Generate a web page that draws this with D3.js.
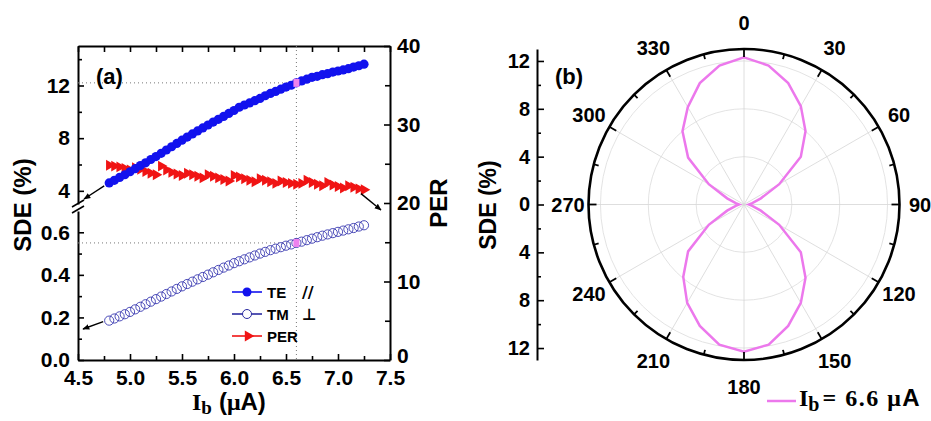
<!DOCTYPE html>
<html>
<head>
<meta charset="utf-8">
<script src="https://cdn.jsdelivr.net/npm/d3@7"></script>
<style>
  body { margin: 0; background: #fff; }
  text { font-family: Arial, "Liberation Sans", sans-serif; font-weight: bold; fill: #000; }
  .serif { font-family: "Times New Roman", "Liberation Serif", serif; }
</style>
</head>
<body>
<svg width="931" height="421"></svg>
<script>
// ---- panel (a) data ----
const current = [4.80,4.85,4.90,4.95,5.00,5.05,5.10,5.15,5.20,5.25,
                 5.30,5.35,5.40,5.45,5.50,5.55,5.60,5.65,5.70,5.75,
                 5.80,5.85,5.90,5.95,6.00,6.05,6.10,6.15,6.20,6.25,
                 6.30,6.35,6.40,6.45,6.50,6.55,6.60,6.65,6.70,6.75,
                 6.80,6.85,6.90,6.95,7.00,7.05,7.10,7.15,7.20,7.25]
const sdeTE = [4.60,4.80,5.02,5.22,5.45,5.68,5.92,6.13,6.38,6.60,
               6.85,7.10,7.35,7.60,7.85,8.08,8.32,8.55,8.78,9.00,
               9.22,9.43,9.65,9.88,10.10,10.35,10.52,10.68,10.85,11.02,
               11.22,11.40,11.55,11.72,11.88,12.02,12.20,12.35,12.48,12.62,
               12.70,12.82,12.90,13.02,13.10,13.18,13.28,13.40,13.50,13.62]
const sdeTM = [0.185,0.195,0.205,0.215,0.226,0.238,0.250,0.262,0.274,0.286,
               0.298,0.310,0.322,0.334,0.346,0.357,0.368,0.379,0.390,0.401,
               0.412,0.423,0.434,0.444,0.455,0.464,0.473,0.482,0.491,0.500,
               0.508,0.516,0.523,0.530,0.537,0.543,0.550,0.556,0.563,0.570,
               0.577,0.584,0.590,0.596,0.602,0.608,0.614,0.620,0.627,0.633]
const perValues = [24.8,24.7,24.6,24.4,24.2,24.5,24.3,24.0,23.8,23.6,
                   24.7,24.2,23.9,23.7,23.5,23.8,23.6,23.4,23.2,23.6,
                   23.4,23.2,23.0,22.8,23.5,23.3,23.1,22.9,22.7,23.1,
                   22.9,22.7,22.5,22.8,22.6,22.5,22.4,22.5,22.9,22.6,
                   22.4,22.2,22.6,22.3,22.1,21.9,22.2,22.0,21.8,21.7]
const markedCurrent = 6.6
const xTicks = [4.5,5.0,5.5,6.0,6.5,7.0,7.5]
const xMinor = [4.75,5.25,5.75,6.25,6.75,7.25]
const hiTicks = [4,8,12], hiMinor = [6,10,14]
const loTicks = [0.0,0.2,0.4,0.6], loMinor = [0.1,0.3,0.5]
const perTicks = [0,10,20,30,40], perMinor = [5,15,25,35]

// ---- panel (b) data ----
const polarAngles = [0,10,20,30,40,50,60,70,80,90,100,110,120,130,140,150,160,170,
                     180,190,200,210,220,230,240,250,260,270,280,290,300,310,320,330,340,350]
const polarSDE = [12.3,11.8,10.8,9.5,8.0,6.2,3.4,1.5,0.7,0.4,0.7,1.5,3.4,6.2,8.0,9.5,10.8,11.9,
                  12.3,11.9,10.8,9.5,7.9,6.1,3.4,1.5,0.7,0.4,0.7,1.5,3.4,6.1,8.0,9.4,10.8,11.8]
const angleLabels = [0,30,60,90,120,150,180,210,240,270,300,330]
const radialTicks = [0,4,8,12], radialMinor = [2,6,10]

const svg = d3.select('svg')

// ================= panel (a) =================
const x = d3.scaleLinear().domain([4.5,7.5]).range([78,390])
const yHi = d3.scaleLinear().domain([3,15]).range([204,46])
const yLo = d3.scaleLinear().domain([0,0.7]).range([360,211])
const yPer = d3.scaleLinear().domain([0,40]).range([360,46])

const styleAxis = g => {
  g.selectAll('.domain').attr('stroke','#000').attr('stroke-width',2)
  g.selectAll('.tick line').attr('stroke','#000').attr('stroke-width',1.6)
  g.selectAll('.tick text').attr('font-size',21).attr('fill','#000')
}

// bottom + top
svg.append('g').attr('transform','translate(0,360)')
  .call(d3.axisBottom(x).tickValues(xTicks).tickSizeInner(-6).tickSizeOuter(0).tickPadding(10).tickFormat(d3.format('.1f')))
  .call(styleAxis)
svg.append('g').attr('transform','translate(0,360)')
  .call(d3.axisBottom(x).tickValues(xMinor).tickSizeInner(-4).tickSizeOuter(0).tickFormat(''))
  .call(styleAxis).select('.domain').remove()
svg.append('g').attr('transform','translate(0,46)')
  .call(d3.axisTop(x).tickValues(xTicks.concat(xMinor)).tickSizeInner(-6).tickSizeOuter(0).tickFormat(''))
  .call(styleAxis)

// left broken axis
svg.append('g').attr('transform','translate(78,0)')
  .call(d3.axisLeft(yHi).tickValues(hiTicks).tickSizeInner(-6).tickSizeOuter(0).tickPadding(8))
  .call(styleAxis)
svg.append('g').attr('transform','translate(78,0)')
  .call(d3.axisLeft(yHi).tickValues(hiMinor).tickSizeInner(-4).tickSizeOuter(0).tickFormat(''))
  .call(styleAxis).select('.domain').remove()
svg.append('g').attr('transform','translate(78,0)')
  .call(d3.axisLeft(yLo).tickValues(loTicks).tickSizeInner(-6).tickSizeOuter(0).tickPadding(8).tickFormat(d3.format('.1f')))
  .call(styleAxis)
svg.append('g').attr('transform','translate(78,0)')
  .call(d3.axisLeft(yLo).tickValues(loMinor).tickSizeInner(-4).tickSizeOuter(0).tickFormat(''))
  .call(styleAxis).select('.domain').remove()
// break marks
const brk = svg.append('g').attr('stroke','#000').attr('stroke-width',1.6)
brk.append('line').attr('x1',72).attr('y1',207).attr('x2',84).attr('y2',200)
brk.append('line').attr('x1',72).attr('y1',213).attr('x2',84).attr('y2',206)

// right PER axis
svg.append('g').attr('transform','translate(390,0)')
  .call(d3.axisRight(yPer).tickValues(perTicks).tickSizeInner(-6).tickSizeOuter(0).tickPadding(7))
  .call(styleAxis)
  .call(g => g.selectAll('.tick text').filter(d => d == 0).attr('dy','0.1em'))
svg.append('g').attr('transform','translate(390,0)')
  .call(d3.axisRight(yPer).tickValues(perMinor).tickSizeInner(-5).tickSizeOuter(0).tickFormat(''))
  .call(styleAxis).select('.domain').remove()

// dotted guide lines at the marked current
const iMark = current.indexOf(markedCurrent)
const guide = svg.append('g').attr('stroke','#777').attr('stroke-width',1).attr('stroke-dasharray','1,3')
guide.append('line').attr('x1',x(markedCurrent)).attr('x2',x(markedCurrent)).attr('y1',46).attr('y2',360)
guide.append('line').attr('x1',78).attr('x2',x(markedCurrent)).attr('y1',yHi(sdeTE[iMark])).attr('y2',yHi(sdeTE[iMark]))
guide.append('line').attr('x1',78).attr('x2',x(markedCurrent)).attr('y1',yLo(sdeTM[iMark])).attr('y2',yLo(sdeTM[iMark]))

// series
const tri = d3.symbol().type(d3.symbolTriangle).size(52)
svg.append('g').selectAll('path').data(current).enter().append('path')
  .attr('d',tri)
  .attr('transform',(d,i) => `translate(${x(d)},${yPer(perValues[i])}) rotate(90)`)
  .attr('fill','#f01414')
svg.append('g').selectAll('circle').data(current).enter().append('circle')
  .attr('cx',d => x(d)).attr('cy',(d,i) => yHi(sdeTE[i])).attr('r',4.6)
  .attr('fill','#1212ee')
svg.append('g').selectAll('circle').data(current).enter().append('circle')
  .attr('cx',d => x(d)).attr('cy',(d,i) => yLo(sdeTM[i])).attr('r',4.6)
  .attr('fill','none').attr('stroke','#3838b0').attr('stroke-width',0.9)
// pink highlight of the polar-plot point
svg.append('rect').attr('x',x(markedCurrent)-3).attr('y',yHi(sdeTE[iMark])-4).attr('width',6).attr('height',8).attr('fill','#ee82ee')
svg.append('rect').attr('x',x(markedCurrent)-3).attr('y',yLo(sdeTM[iMark])-4).attr('width',6).attr('height',8).attr('fill','#ee82ee')

// arrows
svg.append('defs').append('marker').attr('id','ah')
  .attr('viewBox','0 0 10 10').attr('refX',9).attr('refY',5)
  .attr('markerWidth',7).attr('markerHeight',7).attr('orient','auto-start-reverse')
  .attr('markerUnits','userSpaceOnUse')
  .append('path').attr('d','M0,1L10,5L0,9z').attr('fill','#000')
const arrow = (x1,y1,x2,y2) => svg.append('line')
  .attr('x1',x1).attr('y1',y1).attr('x2',x2).attr('y2',y2)
  .attr('stroke','#000').attr('stroke-width',1.4).attr('marker-end','url(#ah)')
arrow(x(current[0])-5,yHi(sdeTE[0])+3,84,199)
arrow(x(current[0])-6,yLo(sdeTM[0])+1,83,329)
arrow(x(current[49])-3,yPer(perValues[49])+4,381,210)

// legend
const legend = [
  {label:'TE', y:292, color:'#1212ee', kind:'fill', extra:'//'},
  {label:'TM', y:314, color:'#2a2aa0', kind:'open', extra:'\u22A5'},
  {label:'PER', y:336, color:'#f01414', kind:'tri'}
]
const lg = svg.append('g')
legend.forEach(d => {
  lg.append('line').attr('x1',232).attr('x2',262).attr('y1',d.y).attr('y2',d.y)
    .attr('stroke',d.color).attr('stroke-width',1.6)
  if(d.kind=='fill') lg.append('circle').attr('cx',247).attr('cy',d.y).attr('r',4.5).attr('fill',d.color)
  if(d.kind=='open') lg.append('circle').attr('cx',247).attr('cy',d.y).attr('r',4.5).attr('fill','#fff').attr('stroke',d.color).attr('stroke-width',1)
  if(d.kind=='tri') lg.append('path').attr('d',tri).attr('transform',`translate(248,${d.y}) rotate(90)`).attr('fill',d.color)
  lg.append('text').attr('x',267).attr('y',d.y+5.5).attr('font-size',15).text(d.label)
  if(d.extra) lg.append('text').attr('x',302).attr('y',d.y+6).attr('font-size',16)
    .style('font-family','"DejaVu Sans",sans-serif').text(d.extra)
})

// titles
svg.append('text').attr('x',96).attr('y',84).attr('font-size',22).text('(a)')
svg.append('text').attr('transform','translate(31,205) rotate(-90)').attr('text-anchor','middle')
  .attr('font-size',24).text('SDE (%)')
svg.append('text').attr('transform','translate(447,203) rotate(-90)').attr('text-anchor','middle')
  .attr('font-size',24).text('PER')
const xl = svg.append('text').attr('x',192).attr('y',410).attr('font-size',24)
xl.append('tspan').attr('class','serif').text('I')
xl.append('tspan').attr('class','serif').attr('dy',4).attr('font-size',19).text('b')
xl.append('tspan').attr('dy',-4).attr('dx',7).text('(')
xl.append('tspan').attr('class','serif').text('\u03BC')
xl.append('tspan').text('A)')

// ================= panel (b) =================
const cx = 744, cy = 204.5
const r = d3.scaleLinear().domain([0,13]).range([0,155.5])
const polar = svg.append('g').attr('transform',`translate(${cx},${cy})`)

// grid
polar.selectAll('.gc').data(radialTicks.slice(1)).enter().append('circle')
  .attr('r',d => r(d)).attr('fill','none').attr('stroke','#dcdcdc').attr('stroke-width',0.8)
polar.selectAll('.sp').data(angleLabels).enter().append('line')
  .attr('x1',0).attr('y1',0)
  .attr('x2',d => r(13)*Math.sin(d*Math.PI/180)).attr('y2',d => -r(13)*Math.cos(d*Math.PI/180))
  .attr('stroke','#d6d6d6').attr('stroke-width',0.8)

// data curve
const polarData = polarAngles.map((a,i) => ({a:a, v:polarSDE[i]}))
polar.append('path').datum(polarData)
  .attr('d',d3.lineRadial().angle(d => d.a*Math.PI/180).radius(d => r(d.v)).curve(d3.curveLinearClosed))
  .attr('fill','none').attr('stroke','#ec78ec').attr('stroke-width',2.5)

// outer circle + angular ticks
polar.append('circle').attr('r',r(13)).attr('fill','none').attr('stroke','#000').attr('stroke-width',2.6)
const angTicks = d3.range(0,360,15)
polar.selectAll('.at').data(angTicks).enter().append('line')
  .attr('x1',d => r(13)*Math.sin(d*Math.PI/180)).attr('y1',d => -r(13)*Math.cos(d*Math.PI/180))
  .attr('x2',d => (r(13)-(d%30==0?8:5))*Math.sin(d*Math.PI/180))
  .attr('y2',d => -(r(13)-(d%30==0?8:5))*Math.cos(d*Math.PI/180))
  .attr('stroke','#000').attr('stroke-width',1.8)
polar.selectAll('.al').data(angleLabels).enter().append('text')
  .attr('x',d => (176+6*Math.abs(Math.cos(d*Math.PI/180)))*Math.sin(d*Math.PI/180))
  .attr('y',d => -(176+6*Math.abs(Math.cos(d*Math.PI/180)))*Math.cos(d*Math.PI/180))
  .attr('text-anchor','middle').attr('dominant-baseline','central')
  .attr('font-size',20).text(d => d)

// radial axis on the left
const rUp = d3.scaleLinear().domain([0,13]).range([cy,cy-r(13)])
const rDn = d3.scaleLinear().domain([0,13]).range([cy,cy+r(13)])
svg.append('g').attr('transform','translate(537,0)')
  .call(d3.axisLeft(rUp).tickValues(radialTicks).tickSizeInner(-7).tickSizeOuter(0).tickPadding(7))
  .call(styleAxis).call(g => g.selectAll('.tick text').attr('font-size',20))
svg.append('g').attr('transform','translate(537,0)')
  .call(d3.axisLeft(rDn).tickValues(radialTicks.slice(1)).tickSizeInner(-7).tickSizeOuter(0).tickPadding(7))
  .call(styleAxis).call(g => g.selectAll('.tick text').attr('font-size',20))
svg.append('g').attr('transform','translate(537,0)')
  .call(d3.axisLeft(rUp).tickValues(radialMinor).tickSizeInner(-4).tickSizeOuter(0).tickFormat(''))
  .call(styleAxis).select('.domain').remove()
svg.append('g').attr('transform','translate(537,0)')
  .call(d3.axisLeft(rDn).tickValues(radialMinor).tickSizeInner(-4).tickSizeOuter(0).tickFormat(''))
  .call(styleAxis).select('.domain').remove()

svg.append('text').attr('x',555).attr('y',84).attr('font-size',22).text('(b)')
svg.append('text').attr('transform','translate(496,205) rotate(-90)').attr('text-anchor','middle')
  .attr('font-size',23).text('SDE (%)')

// legend (b)
svg.append('line').attr('x1',767).attr('x2',796).attr('y1',401).attr('y2',401)
  .attr('stroke','#ec78ec').attr('stroke-width',2.5)
const lb = svg.append('text').attr('x',799).attr('y',406).attr('font-size',24)
lb.append('tspan').attr('class','serif').text('I')
lb.append('tspan').attr('class','serif').attr('dy',5).attr('font-size',20).text('b')
lb.append('tspan').attr('class','serif').attr('dy',-5).attr('dx',3)
  .attr('letter-spacing',1.5).text('= 6.6 \u03BC')
lb.append('tspan').text('A')
</script>
</body>
</html>
